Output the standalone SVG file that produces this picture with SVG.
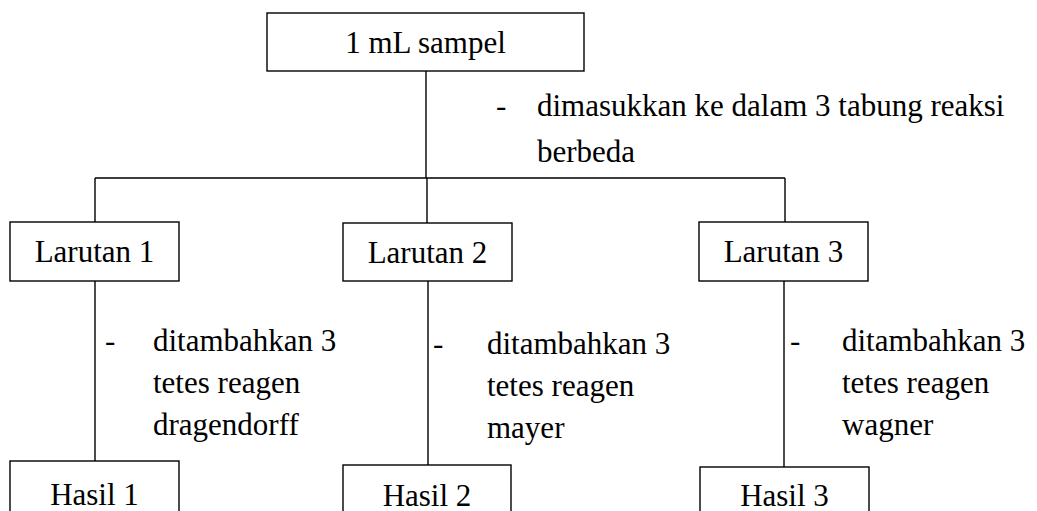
<svg xmlns="http://www.w3.org/2000/svg" width="1037" height="511" viewBox="0 0 1037 511">
<style>
.box{fill:#fff;stroke:#000;stroke-width:1.4}
.ln{stroke:#000;stroke-width:1.4;fill:none}
text{font-family:"Liberation Serif","Times New Roman",serif;font-size:31px;fill:#000}
.c{text-anchor:middle}
</style>
<rect width="1037" height="511" fill="#fff"/>
<g id="connectors">
<path class="ln" d="M426 71V178M95 178H785M95 178V222M427 178V223M785 178V222M95 281V461M428 281V465M784 281V467"/>
</g>
<g id="n-sampel"><rect class="box" x="267" y="13" width="317" height="58"/><text class="c" x="425.5" y="53">1 mL sampel</text></g>
<g id="lbl-top"><text x="496" y="116">-</text><text x="537" y="116">dimasukkan ke dalam 3 tabung reaksi</text><text x="537" y="162">berbeda</text></g>
<g id="n-larutan1"><rect class="box" x="10" y="222" width="169" height="59"/><text class="c" x="94.5" y="262">Larutan 1</text></g>
<g id="n-larutan2"><rect class="box" x="343" y="223" width="169" height="58"/><text class="c" x="427.5" y="263">Larutan 2</text></g>
<g id="n-larutan3"><rect class="box" x="699" y="222" width="169" height="59"/><text class="c" x="783.5" y="262">Larutan 3</text></g>
<g id="lbl-1"><text x="105" y="351">-</text><text x="153" y="351">ditambahkan 3</text><text x="153" y="393">tetes reagen</text><text x="153" y="435">dragendorff</text></g>
<g id="lbl-2"><text x="433" y="354">-</text><text x="487" y="354">ditambahkan 3</text><text x="487" y="396">tetes reagen</text><text x="487" y="438">mayer</text></g>
<g id="lbl-3"><text x="790" y="351">-</text><text x="842" y="351">ditambahkan 3</text><text x="842" y="393">tetes reagen</text><text x="842" y="435">wagner</text></g>
<g id="n-hasil1"><rect class="box" x="10" y="461" width="169" height="60"/><text class="c" x="94.5" y="505">Hasil 1</text></g>
<g id="n-hasil2"><rect class="box" x="343" y="465" width="168" height="60"/><text class="c" x="427" y="506">Hasil 2</text></g>
<g id="n-hasil3"><rect class="box" x="700" y="467" width="169" height="60"/><text class="c" x="784.5" y="506">Hasil 3</text></g>
</svg>
